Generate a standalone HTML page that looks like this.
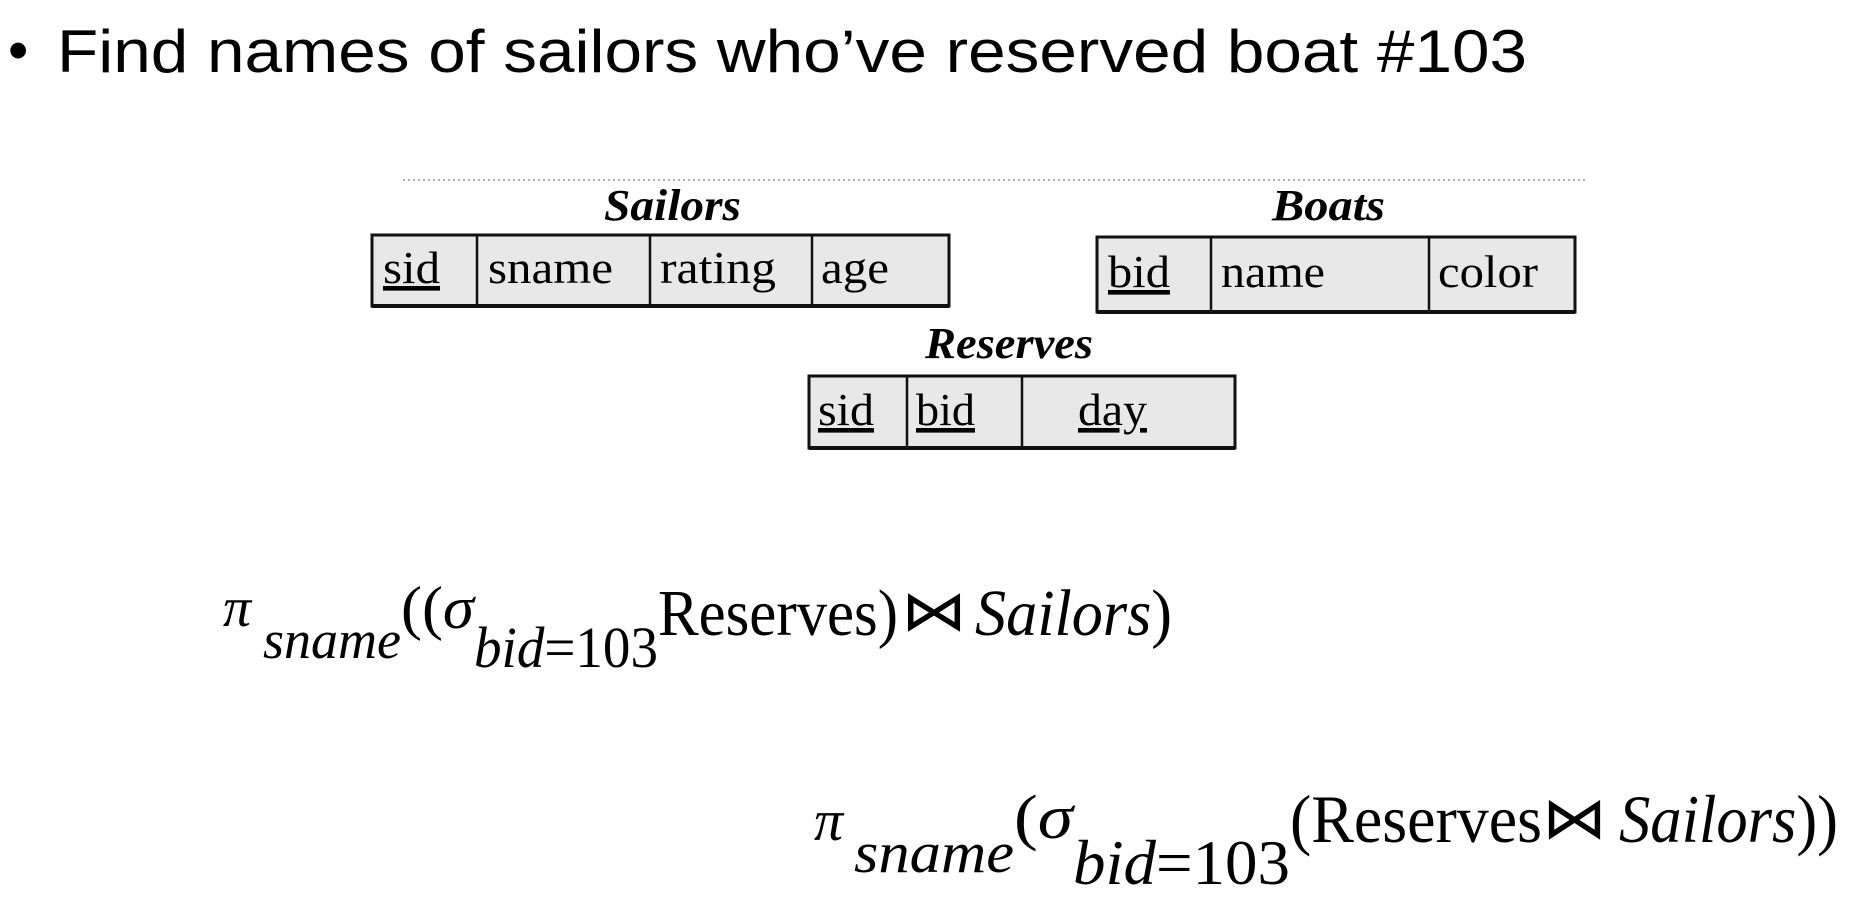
<!DOCTYPE html>
<html><head><meta charset="utf-8"><style>
html,body{margin:0;padding:0;background:#fff;}
svg{display:block;}
</style></head><body>
<svg width="1850" height="916" xmlns="http://www.w3.org/2000/svg">
<text x="8" y="70" font-family="Liberation Sans, sans-serif" font-size="58" fill="#000">•</text>
<text x="57" y="72" font-family="Liberation Sans, sans-serif" font-size="60" fill="#000" textLength="1470" lengthAdjust="spacingAndGlyphs">Find names of sailors who’ve reserved boat #103</text>
<line x1="403" y1="180" x2="1586" y2="180" stroke="#9fb3c8" stroke-width="2" stroke-dasharray="2,3"/>
<g font-family="Liberation Serif, serif" font-weight="bold" font-style="italic" font-size="44" fill="#000">
<text x="604" y="220" textLength="137" lengthAdjust="spacingAndGlyphs">Sailors</text>
<text x="1272" y="220" textLength="113" lengthAdjust="spacingAndGlyphs">Boats</text>
<text x="925" y="358" textLength="168" lengthAdjust="spacingAndGlyphs">Reserves</text>
</g>
<g fill="#e8e8e8" stroke="#111" stroke-width="3">
<rect x="372" y="235" width="577" height="71"/>
<rect x="1097" y="237" width="478" height="75"/>
<rect x="809" y="376" width="426" height="72"/>
</g>
<g stroke="#111" stroke-width="2.5">
<line x1="477" y1="235" x2="477" y2="306"/><line x1="650" y1="235" x2="650" y2="306"/><line x1="812" y1="235" x2="812" y2="306"/>
<line x1="1211" y1="237" x2="1211" y2="312"/><line x1="1429" y1="237" x2="1429" y2="312"/>
<line x1="907" y1="376" x2="907" y2="448"/><line x1="1022" y1="376" x2="1022" y2="448"/>
<line x1="372" y1="306" x2="949" y2="306" stroke-width="4"/>
<line x1="1097" y1="312" x2="1575" y2="312" stroke-width="4"/>
<line x1="809" y1="448" x2="1235" y2="448" stroke-width="4"/>
</g>
<g font-family="Liberation Serif, serif" font-size="46" fill="#000">
<text x="383" y="283" text-decoration="underline" textLength="57" lengthAdjust="spacingAndGlyphs">sid</text>
<text x="488" y="283" textLength="125" lengthAdjust="spacingAndGlyphs">sname</text>
<text x="660" y="283" textLength="116" lengthAdjust="spacingAndGlyphs">rating</text>
<text x="821" y="283" textLength="68" lengthAdjust="spacingAndGlyphs">age</text>
<text x="1108" y="287" text-decoration="underline" textLength="62" lengthAdjust="spacingAndGlyphs">bid</text>
<text x="1221" y="287" textLength="104" lengthAdjust="spacingAndGlyphs">name</text>
<text x="1438" y="287" textLength="100" lengthAdjust="spacingAndGlyphs">color</text>
<text x="818" y="425" text-decoration="underline" textLength="56" lengthAdjust="spacingAndGlyphs">sid</text>
<text x="916" y="425" text-decoration="underline" textLength="59" lengthAdjust="spacingAndGlyphs">bid</text>
<text x="1078" y="425" text-decoration="underline" textLength="69" lengthAdjust="spacingAndGlyphs">day</text>
</g>
<g font-family="Liberation Serif, serif" fill="#000">
<text x="223" y="626" font-size="56" font-style="italic">π</text>
<text x="263" y="658" font-size="54" font-style="italic" textLength="138" lengthAdjust="spacingAndGlyphs">sname</text>
<text x="401" y="628" font-size="60" textLength="73" lengthAdjust="spacingAndGlyphs">((<tspan font-style="italic">σ</tspan></text>
<text x="474" y="667" font-size="58" textLength="184" lengthAdjust="spacingAndGlyphs"><tspan font-style="italic">bid</tspan>=103</text>
<text x="658" y="635" font-size="66" textLength="240" lengthAdjust="spacingAndGlyphs">Reserves)</text>
<text x="901" y="630" font-size="56" textLength="66" lengthAdjust="spacingAndGlyphs">⋈</text>
<text x="975" y="635" font-size="66" textLength="197" lengthAdjust="spacingAndGlyphs"><tspan font-style="italic">Sailors</tspan>)</text>

<text x="814" y="840" font-size="58" font-style="italic">π</text>
<text x="854" y="872" font-size="58" font-style="italic" textLength="160" lengthAdjust="spacingAndGlyphs">sname</text>
<text x="1014" y="838" font-size="62" textLength="59" lengthAdjust="spacingAndGlyphs">(<tspan font-style="italic">σ</tspan></text>
<text x="1073" y="884" font-size="64" textLength="217" lengthAdjust="spacingAndGlyphs"><tspan font-style="italic">bid</tspan>=103</text>
<text x="1290" y="842" font-size="68" textLength="252" lengthAdjust="spacingAndGlyphs">(Reserves</text>
<text x="1542" y="838" font-size="58" textLength="65" lengthAdjust="spacingAndGlyphs">⋈</text>
<text x="1619" y="842" font-size="68" textLength="219" lengthAdjust="spacingAndGlyphs"><tspan font-style="italic">Sailors</tspan>))</text>
</g>
</svg>
</body></html>
